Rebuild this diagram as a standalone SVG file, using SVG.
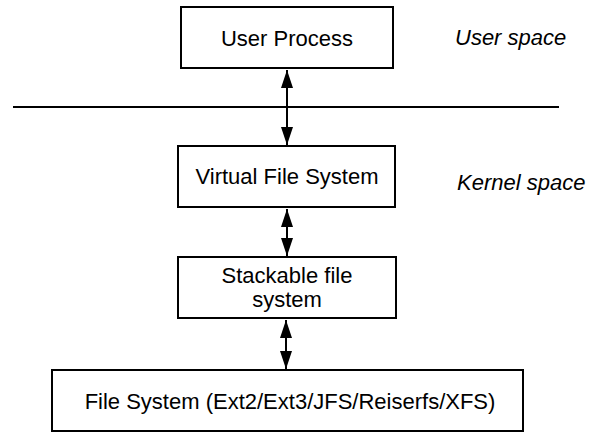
<svg xmlns="http://www.w3.org/2000/svg" width="593" height="432" viewBox="0 0 593 432">
<style>
.box{fill:#fff;stroke:#000;stroke-width:2}
.t{font-family:"Liberation Sans",Arial,sans-serif;font-size:22px;fill:#000;text-anchor:middle}
.it{font-family:"Liberation Sans",Arial,sans-serif;font-size:22px;font-style:italic;fill:#000}
.c{stroke:#000;stroke-width:2;fill:none;marker-start:url(#ah);marker-end:url(#ah)}
</style>
<defs>
<marker id="ah" markerUnits="userSpaceOnUse" markerWidth="18" markerHeight="12" viewBox="0 0 18 12" refX="18" refY="6" orient="auto-start-reverse">
<path d="M0,0 L18,6 L0,12 Z" fill="#000"/>
</marker>
</defs>
<g id="divider"><line x1="13" y1="107" x2="559" y2="107" stroke="#000" stroke-width="2"/></g>
<g id="user-process"><rect class="box" x="181" y="7" width="212" height="61"/><text class="t" x="287" y="46">User Process</text></g>
<g id="vfs"><rect class="box" x="178" y="146" width="217" height="61"/><text class="t" x="287" y="184">Virtual File System</text></g>
<g id="stackable"><rect class="box" x="178" y="257" width="218" height="61"/><text class="t" x="287" y="283">Stackable file</text><text class="t" x="287" y="307">system</text></g>
<g id="filesystem"><rect class="box" x="52" y="370" width="471" height="61"/><text class="t" x="290" y="409">File System (Ext2/Ext3/JFS/Reiserfs/XFS)</text></g>
<g id="labels"><text class="it" x="455" y="45">User space</text><text class="it" x="457" y="190">Kernel space</text></g>
<g id="connectors">
<line class="c" x1="287" y1="70" x2="287" y2="145"/>
<line class="c" x1="287" y1="209" x2="287" y2="256"/>
<line class="c" x1="286" y1="320" x2="286" y2="369"/>
</g>
</svg>
